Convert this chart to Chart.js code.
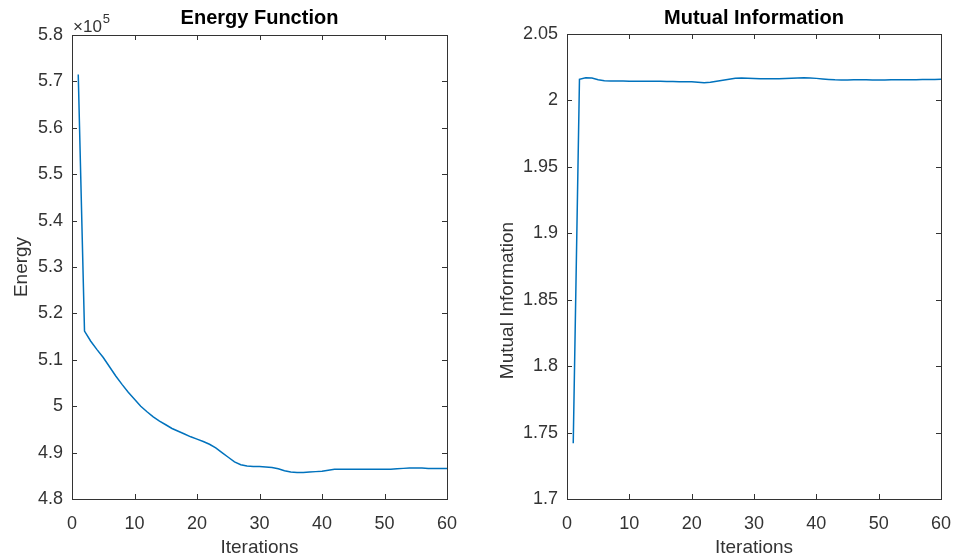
<!DOCTYPE html>
<html>
<head>
<meta charset="utf-8">
<title>Energy Function / Mutual Information</title>
<script src="https://cdn.jsdelivr.net/npm/chart.js@4.4.1/dist/chart.umd.min.js"></script>
<style>
  body { margin: 0; background: #fff; }
  #wrap { position: relative; width: 956px; height: 560px; }
  canvas { position: absolute; top: 0; }
  #grafikEnergy { left: 0; }
  #grafikMI { left: 478px; }
</style>
</head>
<body>
<div id="wrap">
  <canvas id="grafikEnergy" width="478" height="560"></canvas>
  <canvas id="grafikMI" width="478" height="560"></canvas>
</div>
<script>
const iterations = [
  1, 2, 3, 4, 5, 6, 7, 8, 9, 10, 11, 12, 13, 14, 15, 16, 17, 18, 19, 20,
  21, 22, 23, 24, 25, 26, 27, 28, 29, 30, 31, 32, 33, 34, 35, 36, 37, 38, 39, 40,
  41, 42, 43, 44, 45, 46, 47, 48, 49, 50, 51, 52, 53, 54, 55, 56, 57, 58, 59, 60
];

const energy = [
  571500, 516200, 514000, 512200, 510500, 508500, 506500, 504700, 503000, 501500,
  500000, 498800, 497700, 496800, 496000, 495200, 494600, 494000, 493400, 492900,
  492400, 491800, 491000, 490000, 489000, 488000, 487400, 487100, 487000, 487000,
  486900, 486800, 486500, 486100, 485800, 485700, 485700, 485800, 485900, 486000,
  486200, 486400, 486400, 486400, 486400, 486400, 486400, 486400, 486400, 486400,
  486400, 486500, 486600, 486700, 486700, 486700, 486600, 486600, 486600, 486600
];

const mutualInfo = [
  1.742, 2.0159, 2.0171, 2.0168, 2.0155, 2.0148, 2.0147, 2.0146, 2.0146, 2.0145,
  2.0145, 2.0145, 2.0144, 2.0144, 2.0144, 2.0143, 2.0142, 2.0141, 2.0141, 2.0140,
  2.0137, 2.0133, 2.0136, 2.0145, 2.0152, 2.0160, 2.0167, 2.0168, 2.0166, 2.0165,
  2.0164, 2.0164, 2.0163, 2.0164, 2.0165, 2.0167, 2.0169, 2.0170, 2.0168, 2.0166,
  2.0162, 2.0158, 2.0155, 2.0154, 2.0154, 2.0155, 2.0155, 2.0155, 2.0154, 2.0154,
  2.0154, 2.0155, 2.0155, 2.0156, 2.0156, 2.0156, 2.0157, 2.0157, 2.0158, 2.0159
];

const xTicks = { min: 0, max: 60, step: 10 };
const energyTicks = { min: 480000, max: 580000, step: 10000 };
const miTicks = { min: 1.7, max: 2.05, step: 0.05 };

const FONT = '"Liberation Sans", Arial, Helvetica, sans-serif';
const AXIS_COLOR = '#333333';
const TEXT_COLOR = '#333333';
const LINE_COLOR = 'rgb(0, 114, 189)';

// box round the plot area, with short tick marks pointing inwards on all four sides
const boxPlugin = {
    id: 'box',
    afterDraw(chart) {
        const { ctx, chartArea: a, scales } = chart;
        const len = 5;
        ctx.save();
        ctx.strokeStyle = AXIS_COLOR;
        ctx.lineWidth = 1;
        ctx.strokeRect(Math.round(a.left) + 0.5, Math.round(a.top) + 0.5,
            Math.round(a.right - a.left), Math.round(a.bottom - a.top));
        ctx.beginPath();
        scales.x.ticks.forEach(t => {
            const px = Math.round(scales.x.getPixelForValue(t.value)) + 0.5;
            ctx.moveTo(px, a.bottom); ctx.lineTo(px, a.bottom - len);
            ctx.moveTo(px, a.top); ctx.lineTo(px, a.top + len);
        });
        scales.y.ticks.forEach(t => {
            const py = Math.round(scales.y.getPixelForValue(t.value)) + 0.5;
            ctx.moveTo(a.left, py); ctx.lineTo(a.left + len, py);
            ctx.moveTo(a.right, py); ctx.lineTo(a.right - len, py);
        });
        ctx.stroke();
        ctx.restore();
    }
};

// exponent label above the energy axis
const exponentPlugin = {
    id: 'exponent',
    afterDraw(chart, args, opts) {
        if (!opts.text) return;
        const { ctx, chartArea: a } = chart;
        ctx.save();
        ctx.fillStyle = TEXT_COLOR;
        ctx.textBaseline = 'alphabetic';
        ctx.textAlign = 'left';
        ctx.font = '17px ' + FONT;
        const base = '\u00d710';
        ctx.fillText(base, a.left + 1, a.top - 3);
        const w = ctx.measureText(base).width;
        ctx.font = '13px ' + FONT;
        ctx.fillText(opts.text, a.left + 1 + w + 1, a.top - 12);
        ctx.restore();
    }
};

// rotated y axis title, centred on the plot area plus an optional shift
const yLabelPlugin = {
    id: 'yLabel',
    afterDraw(chart, args, opts) {
        if (!opts.text) return;
        const { ctx, chartArea: a } = chart;
        ctx.save();
        ctx.fillStyle = TEXT_COLOR;
        ctx.font = '19px ' + FONT;
        ctx.textAlign = 'center';
        ctx.textBaseline = 'middle';
        ctx.translate(opts.x, (a.top + a.bottom) / 2 + (opts.shift || 0));
        ctx.rotate(-Math.PI / 2);
        ctx.fillText(opts.text, 0, 0);
        ctx.restore();
    }
};

function makeChart(canvasId, opts) {
    const ctx = document.getElementById(canvasId).getContext('2d');
    return new Chart(ctx, {
        type: 'line',
        data: {
            datasets: [{
                data: iterations.map((it, i) => ({ x: it, y: opts.values[i] })),
                borderColor: LINE_COLOR,
                borderWidth: 1.5,
                pointRadius: 0,
                fill: false,
                tension: 0
            }]
        },
        options: {
            responsive: false,
            animation: false,
            layout: { padding: { left: 0, right: opts.padRight, top: 0, bottom: 0 } },
            plugins: {
                legend: { display: false },
                tooltip: { enabled: false },
                title: {
                    display: true,
                    text: opts.title,
                    fullSize: false,
                    color: '#000',
                    font: { family: FONT, size: 20, weight: 'bold', lineHeight: 1.2 },
                    padding: { top: opts.titleTop, bottom: opts.titleBottom }
                },
                exponent: { text: opts.exponent || '' },
                yLabel: { text: opts.yTitle, x: opts.yTitleX, shift: opts.yTitleShift }
            },
            scales: {
                x: {
                    type: 'linear',
                    min: xTicks.min,
                    max: xTicks.max,
                    grid: { display: false, drawTicks: false },
                    border: { display: false },
                    ticks: {
                        stepSize: xTicks.step,
                        color: TEXT_COLOR,
                        padding: 14,
                        maxRotation: 0,
                        font: { family: FONT, size: 18 }
                    },
                    title: {
                        display: true,
                        text: 'Iterations',
                        color: TEXT_COLOR,
                        font: { family: FONT, size: 19, lineHeight: 1.2 },
                        padding: { top: 0, bottom: 1 }
                    },
                    afterFit(scale) {
                        scale.height = 61;
                        scale.paddingLeft = 0;
                        scale.paddingRight = 0;
                    }
                },
                y: {
                    type: 'linear',
                    min: opts.ticks.min,
                    max: opts.ticks.max,
                    grid: { display: false, drawTicks: false },
                    border: { display: false },
                    ticks: {
                        stepSize: opts.ticks.step,
                        color: TEXT_COLOR,
                        padding: 9,
                        font: { family: FONT, size: 18 },
                        callback: opts.tickFormat
                    },
                    afterFit(scale) { scale.width = opts.yWidth; }
                }
            }
        },
        plugins: [boxPlugin, exponentPlugin, yLabelPlugin]
    });
}

makeChart('grafikEnergy', {
    values: energy,
    title: 'Energy Function',
    yTitle: 'Energy',
    yTitleX: 22,
    yTitleShift: 0,
    ticks: energyTicks,
    tickFormat: v => String(Number((v / 1e5).toFixed(1))),
    exponent: '5',
    yWidth: 72,
    padRight: 31,
    titleTop: 6,
    titleBottom: 5
});

makeChart('grafikMI', {
    values: mutualInfo,
    title: 'Mutual Information',
    yTitle: 'Mutual Information',
    yTitleX: 30,
    yTitleShift: 34,
    ticks: miTicks,
    tickFormat: v => String(Number(v.toFixed(2))),
    yWidth: 89,
    padRight: 15,
    titleTop: 6,
    titleBottom: 4
});
</script>
</body>
</html>
